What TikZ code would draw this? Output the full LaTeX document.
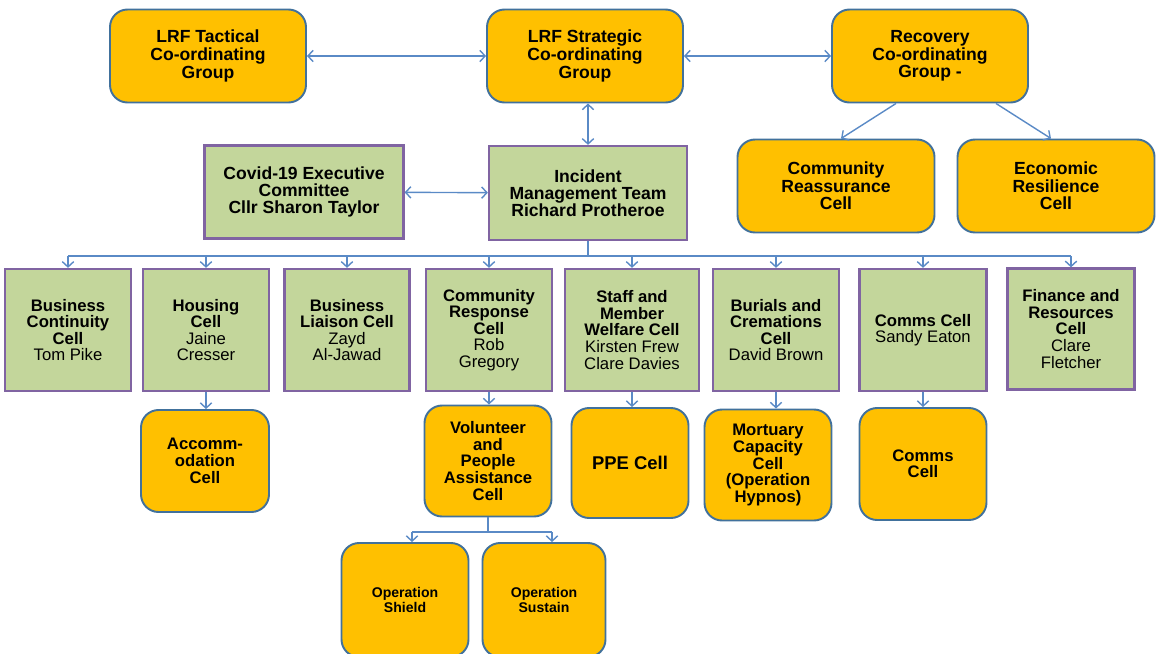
\documentclass[tikz,border=0pt]{standalone}
\usepackage{fontspec}
\setmainfont{Liberation Sans}
\usetikzlibrary{arrows.meta}
\definecolor{cellorange}{HTML}{FFC000}
\definecolor{orangeedge}{HTML}{41719C}
\definecolor{cellgreen}{HTML}{C3D69B}
\definecolor{greenedge}{HTML}{8064A2}
\definecolor{linkblue}{HTML}{5A8AC6}
\tikzset{
    groupbox/.style={draw=orangeedge, fill=cellorange, line width=1.1pt,
        rounded corners=10pt, align=center, inner sep=2pt,
        font=\fontsize{10}{10}\selectfont\bfseries},
    cellbox/.style={draw=greenedge, fill=cellgreen, line width=1.3pt,
        align=center, inner sep=2pt,
        font=\fontsize{9.5}{9.4}\selectfont\bfseries},
    teambox/.style={cellbox, font=\fontsize{10}{9.8}\selectfont\bfseries},
    dims/.style 2 args={minimum width=#1*0.02cm, minimum height=#2*0.02cm},
    link/.style={draw=linkblue, line width=0.8pt},
    oneway/.style={-{Straight Barb[length=3pt,width=6.5pt]}},
    twoway/.style={{Straight Barb[length=3pt,width=6.5pt]}-{Straight Barb[length=3pt,width=6.5pt]}}
}
\begin{document}
\begin{tikzpicture}[x=0.02cm,y=-0.02cm]
        \useasboundingbox (0,0) rectangle (1156,653);
        %% Top
        \node[groupbox, dims={196}{93}] (tactical) at (208,56) {LRF Tactical\\Co-ordinating\\Group};
        \node[groupbox, dims={196}{93}] (strategic) at (585,56) {LRF Strategic\\Co-ordinating\\Group};
        \node[groupbox, dims={196}{93}] (recovery) at (930,56) {Recovery\\Co-ordinating\\Group -};
        \node[groupbox, dims={197}{93}] (reassure) at (836,186) {Community\\Reassurance\\Cell};
        \node[groupbox, dims={197}{93}] (resilience) at (1056,186) {Economic\\Resilience\\Cell};
        \draw[link, twoway] (tactical) -- (strategic);
        \draw[link, twoway] (strategic) -- (recovery);
        \draw[link, oneway] ([xshift=-0.68cm]recovery.south) -- ([xshift=0.1cm]reassure.north);
        \draw[link, oneway] ([xshift=1.32cm]recovery.south) -- ([xshift=-0.1cm]resilience.north);
        %% Management
        \node[teambox, dims={199}{93}] (covid) at (304,192) {Covid-19 Executive\\Committee\\Cllr Sharon Taylor};
        \node[teambox, dims={198}{94}] (imt) at (588,193) {Incident\\Management Team\\Richard Protheroe};
        \draw[link, twoway] (imt.north) -- (imt.north |- strategic.south);
        \draw[link, twoway] (covid) -- (imt);
        %% Cells
        \node[cellbox, dims={126}{122}] (continuity) at (68,330) {Business\\Continuity\\Cell\\\textmd{Tom Pike}};
        \node[cellbox, dims={126}{122}] (housing) at (206,330) {Housing\\Cell\\\textmd{Jaine}\\\textmd{Cresser}};
        \node[cellbox, dims={125}{122}] (liaison) at (347,330) {Business\\Liaison Cell\\\textmd{Zayd}\\\textmd{Al-Jawad}};
        \node[cellbox, dims={126}{122}] (response) at (489,330) {Community\\Response\\Cell\\\textmd{Rob}\\\textmd{Gregory}};
        \node[cellbox, dims={134}{122}] (welfare) at (632,330) {Staff and\\Member\\Welfare Cell\\\textmd{Kirsten Frew}\\\textmd{Clare Davies}};
        \node[cellbox, dims={126}{122}] (burials) at (776,330) {Burials and\\Cremations\\Cell\\\textmd{David Brown}};
        \node[cellbox, dims={127}{122}] (comms) at (923,330) {Comms Cell\\\textmd{Sandy Eaton}};
        \node[cellbox, dims={127}{121}] (finance) at (1071,329) {Finance and\\Resources\\Cell\\\textmd{Clare}\\\textmd{Fletcher}};
        \coordinate (bus) at (589,256);
        \draw[link] (imt.south) -- (imt.south |- bus);
        \draw[link] (continuity.north |- bus) -- (finance.north |- bus);
        \foreach \c in {continuity,housing,liaison,response,welfare,burials,comms,finance}
            \draw[link, oneway] (\c.north |- bus) -- (\c.north);
        %% Sub-cells
        \node[groupbox, dims={128}{102}, font=\fontsize{9.5}{9.5}\selectfont\bfseries] (accom) at (205,461) {Accomm-\\odation\\Cell};
        \node[groupbox, dims={127}{111}, font=\fontsize{9.5}{9.5}\selectfont\bfseries] (volunteer) at (488,461) {Volunteer\\and\\People\\Assistance\\Cell};
        \node[groupbox, dims={117}{110}, font=\fontsize{10.5}{10}\selectfont\bfseries] (ppe) at (630,463) {PPE Cell};
        \node[groupbox, dims={127}{111}, font=\fontsize{9.5}{9.6}\selectfont\bfseries] (mortuary) at (768,465) {Mortuary\\Capacity\\Cell\\(Operation\\Hypnos)};
        \node[groupbox, dims={127}{112}, font=\fontsize{9.5}{9.2}\selectfont\bfseries] (commscell) at (923,464) {Comms\\Cell};
        \node[groupbox, dims={127}{114}, font=\fontsize{8}{9}\selectfont\bfseries] (shield) at (405,600) {Operation\\Shield};
        \node[groupbox, dims={123}{114}, font=\fontsize{8}{9}\selectfont\bfseries] (sustain) at (544,600) {Operation\\Sustain};
        \draw[link, oneway] (housing.south) -- (housing.south |- accom.north);
        \draw[link, oneway] (response.south) -- (response.south |- volunteer.north);
        \draw[link, oneway] (welfare.south) -- (welfare.south |- ppe.north);
        \draw[link, oneway] (burials.south) -- (burials.south |- mortuary.north);
        \draw[link, oneway] (comms.south) -- (comms.south |- commscell.north);
        \coordinate (fork) at (489,532);
        \draw[link] (volunteer.south) -- (volunteer.south |- fork);
        \draw[link] ([xshift=0.14cm]shield.north |- fork) -- ([xshift=0.16cm]sustain.north |- fork);
        \draw[link, oneway] ([xshift=0.14cm]shield.north |- fork) -- ([xshift=0.14cm]shield.north);
        \draw[link, oneway] ([xshift=0.16cm]sustain.north |- fork) -- ([xshift=0.16cm]sustain.north);
\end{tikzpicture}
\end{document}
